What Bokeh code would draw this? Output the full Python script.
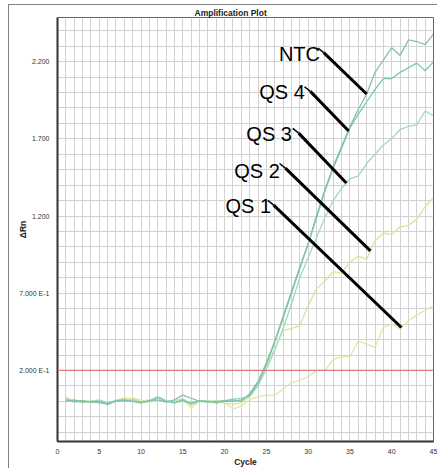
import numpy as np
from bokeh.plotting import figure
from bokeh.models import FixedTicker, Span, Label, Range1d
from bokeh.embed import file_html
from bokeh.resources import INLINE

# ---------------- data ----------------
cycles = list(range(1, 46))

ntc = [0.00, 0.01, -0.005, 0.0, -0.01, -0.015, 0.0, 0.005, 0.0, -0.01, 0.005,
       0.01, -0.005, 0.01, 0.04, 0.02, 0.0, -0.005, 0.0, 0.005, 0.01,
       0.00, 0.05, 0.13, 0.25, 0.39, 0.55, 0.71, 0.87, 1.02, 1.20, 1.37, 1.52,
       1.65, 1.78, 1.89, 1.99, 2.13, 2.21, 2.29, 2.24, 2.34, 2.33, 2.31, 2.38]
qs4 = [0.01, 0.0, 0.005, -0.005, 0.0, -0.02, 0.005, 0.01, 0.0, -0.005, 0.0,
       0.025, 0.0, -0.01, 0.01, -0.015, 0.005, 0.0, -0.01, 0.0, 0.0,
       0.01, 0.04, 0.12, 0.24, 0.38, 0.54, 0.70, 0.86, 1.02, 1.19, 1.36, 1.51,
       1.64, 1.77, 1.86, 1.94, 2.02, 2.09, 2.09, 2.13, 2.16, 2.19, 2.14, 2.20]
qs3 = [0.02, -0.005, 0.0, 0.0, 0.01, -0.01, 0.0, 0.005, 0.01, -0.01, 0.005,
       0.03, 0.005, -0.005, 0.0, -0.01, 0.0, 0.0, -0.005, 0.005, 0.015,
       0.02, 0.03, 0.10, 0.21, 0.33, 0.47, 0.63, 0.80, 0.93, 1.06, 1.19, 1.30,
       1.38, 1.44, 1.46, 1.54, 1.60, 1.66, 1.70, 1.76, 1.78, 1.79, 1.88, 1.85]
qs2 = [0.0, 0.005, -0.01, 0.0, 0.005, -0.015, 0.01, 0.02, 0.015, 0.0, 0.01,
       0.0, 0.0, 0.005, 0.02, -0.025, 0.0, 0.005, 0.0, -0.01, -0.02,
       -0.01, 0.03, 0.11, 0.22, 0.34, 0.46, 0.47, 0.49, 0.62, 0.73, 0.78, 0.84,
       0.83, 0.90, 0.94, 0.92, 1.04, 1.09, 1.08, 1.13, 1.14, 1.18, 1.26, 1.32]
qs1 = [0.03, 0.0, 0.005, -0.01, 0.0, -0.02, 0.0, 0.015, 0.02, 0.01, -0.005,
       0.01, 0.0, 0.0, 0.015, -0.045, 0.0, 0.0, 0.005, -0.01, -0.05,
       -0.03, 0.01, 0.03, 0.04, 0.04, 0.08, 0.12, 0.135, 0.16, 0.20, 0.20, 0.27,
       0.29, 0.29, 0.39, 0.37, 0.35, 0.48, 0.50, 0.47, 0.52, 0.56, 0.59, 0.62]

series_names = ["NTC", "QS 4", "QS 3", "QS 2", "QS 1"]
series_values = [ntc, qs4, qs3, qs2, qs1]

threshold = 0.2

x_ticks = [0, 5, 10, 15, 20, 25, 30, 35, 40, 45]
y_ticks = [0.2, 0.7, 1.2, 1.7, 2.2]
y_tick_labels = ["2.000 E-1", "7.000 E-1", "1.200", "1.700", "2.200"]

title_text = "Amplification Plot"
x_label = "Cycle"
y_label = "\u0394Rn"

# ---------------- styling / annotation placement ----------------
colors = ["#84bfb5", "#74c9a4", "#a2d9bd", "#d6e49e", "#e0e7a8"]
# label text anchor (left, baseline) in data units
label_pos = [(26.5, 2.25), (24.15, 2.0), (22.6, 1.73), (21.15, 1.49), (20.1, 1.265)]
# thick leader start point, and the cycle where it meets its curve
leader_start = [(31.86, 2.258), (30.26, 2.007), (28.86, 1.737), (27.27, 1.51), (25.87, 1.271)]
leader_end_cycle = [37.0, 34.85, 34.57, 37.45, 41.16]

FONT = "Liberation Sans"
X_MIN, X_MAX = 0, 45
Y_MIN, Y_MAX = -0.26, 2.4855

p = figure(width=429, height=464, output_backend="svg", toolbar_location=None,
           x_range=Range1d(X_MIN, X_MAX), y_range=Range1d(Y_MIN, Y_MAX),
           min_border_left=48, min_border_right=5, min_border_top=10,
           min_border_bottom=28)
# outer picture frame: offset and grey left/top edge
p.styles = {"margin-left": "8px", "margin-top": "4px",
            "border-left": "1px solid #808080", "border-top": "1px solid #808080"}
p.background_fill_color = "white"
p.border_fill_color = "white"
p.outline_line_color = "#666666"
p.outline_line_width = 1

# title
p.title.text = title_text
p.title.align = "left"
p.title.offset = 137
p.title.standoff = 0
p.title.text_font = FONT
p.title.text_font_size = "8.5px"
p.title.text_font_style = "bold"
p.title.text_color = "#222222"

# grid
p.xgrid.ticker = FixedTicker(ticks=list(range(0, 46)))
p.ygrid.ticker = FixedTicker(ticks=[round(v, 2) for v in np.arange(-0.2, 2.51, 0.1)])
p.xgrid.grid_line_color = "#d2d2d2"
p.ygrid.grid_line_color = "#d2d2d2"
p.xgrid.grid_line_width = 1
p.ygrid.grid_line_width = 1

# axes
p.xaxis.ticker = FixedTicker(ticks=x_ticks)
p.yaxis.ticker = FixedTicker(ticks=y_ticks)
p.yaxis.major_label_overrides = dict(zip(y_ticks, y_tick_labels))
for ax in (p.xaxis[0], p.yaxis[0]):
    ax.axis_line_color = "#333333"
    ax.axis_line_width = 2
    ax.major_tick_out = 0
    ax.major_tick_in = 0
    ax.minor_tick_out = 0
    ax.minor_tick_in = 0
    ax.major_label_text_font = FONT
    ax.major_label_text_font_size = "7px"
    ax.major_label_text_color = "#333333"
    ax.axis_label_text_font = FONT
    ax.axis_label_text_font_style = "bold"
    ax.axis_label_text_font_size = "8.5px"
    ax.axis_label_text_color = "#222222"
p.xaxis.axis_label = x_label
p.yaxis.axis_label = y_label
p.xaxis.major_label_standoff = 7
p.xaxis.axis_label_standoff = 0
p.yaxis.major_label_standoff = 8
p.yaxis.axis_label_standoff = -12

# curves (draw lowest first)
for name, vals, col in reversed(list(zip(series_names, series_values, colors))):
    p.line(cycles, vals, line_color=col, line_width=1.3)

# threshold
p.add_layout(Span(location=threshold, dimension="width", line_color="#e07a7a",
                  line_width=1.3))

# labels with leader lines
for name, vals, (lx, ly), (sx, sy), ec in zip(series_names, series_values,
                                              label_pos, leader_start, leader_end_cycle):
    ey = float(np.interp(ec, cycles, vals))
    p.line([sx - 0.7, sx], [sy + 0.03, sy], line_color="black", line_width=1.5)
    p.line([sx, ec], [sy, ey], line_color="black", line_width=3)
    p.add_layout(Label(x=lx, y=ly, text=name, text_font=FONT, text_font_size="20px",
                       text_color="black", text_baseline="alphabetic",
                       text_align="left"))

open("out.html", "w").write(file_html(p, INLINE))
